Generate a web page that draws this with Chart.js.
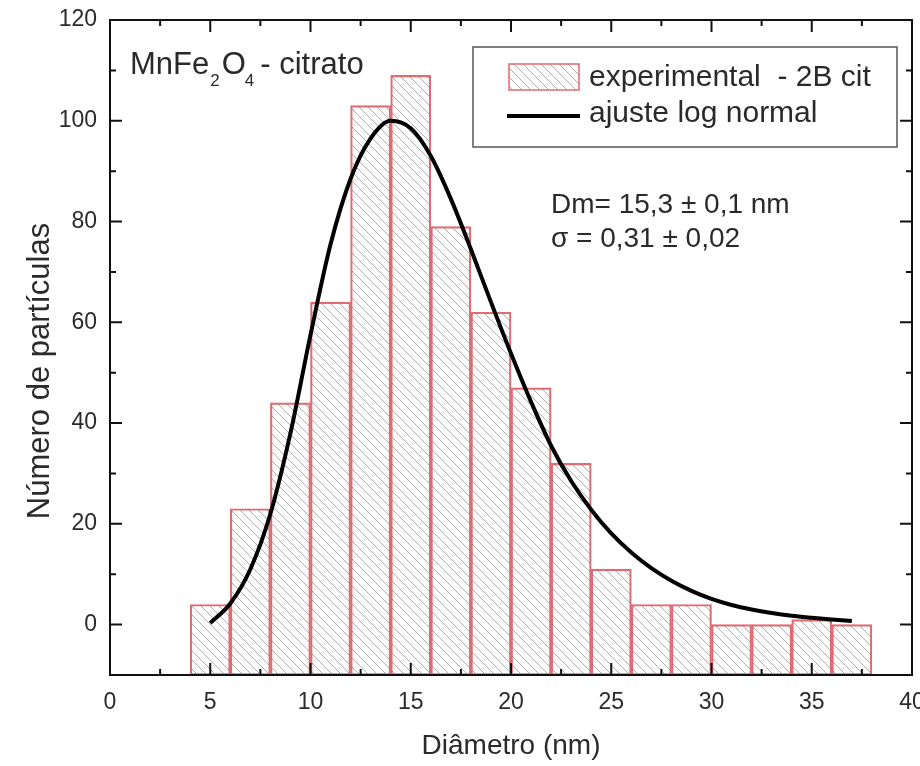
<!DOCTYPE html>
<html>
<head>
<meta charset="utf-8">
<script src="https://cdn.jsdelivr.net/npm/chart.js@4/dist/chart.umd.min.js"></script>
<style>
  html, body { margin: 0; padding: 0; background: #fff; }
</style>
</head>
<body>
<canvas id="hist" width="920" height="766"></canvas>
<script>
// histogram bins (centre of each 2 nm bin) and counts
const binCenters = [5, 7, 9, 11, 13, 15, 17, 19, 21, 23, 25, 27, 29, 31, 33, 35, 37];
const counts     = [4, 23, 44, 64, 103, 109, 79, 62, 47, 32, 11, 4, 4, 0, 0, 1, 0];

// log-normal fit
const fitX = [5, 6, 7, 8, 9, 10, 11, 12, 13, 14, 15, 16, 17, 18, 19, 20, 21,
              22, 23, 24, 25, 26, 27, 28, 29, 30, 31, 32, 33, 34, 35, 36, 37];
const fitY = [0.3, 4.2, 11, 22, 38, 57.5, 75.5, 88.5, 96.5, 100, 98.5, 93, 84.5, 74.5, 64, 53.8, 44.2,
              35.5, 28.5, 22.8, 18.1, 14.3, 11.2, 8.7, 6.7, 5.1, 3.9, 3, 2.3, 1.75, 1.35, 1, 0.7];

const xTicks = [0, 5, 10, 15, 20, 25, 30, 35, 40];
const yTicks = [0, 20, 40, 60, 80, 100, 120];
const xRange = [0, 40];
const yRange = [-10, 120];

const histLabel = 'experimental  - 2B cit';
const fitLabel  = 'ajuste log normal';
const xTitle = 'Diâmetro (nm)';
const yTitle = 'Número de partículas';
const fitParams = ['Dm= 15,3 \u00b1 0,1 nm', '\u03c3 = 0,31 \u00b1 0,02'];

const FONT = "'Liberation Sans', Arial, sans-serif";
const TXT = '#2a2a2a';

const canvas = document.getElementById('hist');
const ctx0 = canvas.getContext('2d');

function makeHatch(ctx) {
  const c = document.createElement('canvas');
  c.width = 9; c.height = 9;
  const g = c.getContext('2d');
  g.strokeStyle = 'rgba(120,120,120,0.6)';
  g.lineWidth = 1;
  g.beginPath();
  g.moveTo(-1, -1); g.lineTo(10, 10);
  g.moveTo(-1, 8);  g.lineTo(1, 10);
  g.moveTo(8, -1);  g.lineTo(10, 1);
  g.stroke();
  return ctx.createPattern(c, 'repeat');
}
const hatch = makeHatch(ctx0);
const barRed = '#e36a72';

/* ====== frame, inward ticks, legend and labels ====== */
const decor = {
  id: 'decor',
  afterDraw(chart) {
    const { ctx, chartArea: a, scales: { x, y } } = chart;
    ctx.save();

    // frame
    ctx.strokeStyle = '#111';
    ctx.lineWidth = 2;
    ctx.strokeRect(a.left, a.top, a.right - a.left, a.bottom - a.top);

    // ticks pointing inwards on all four sides
    ctx.beginPath();
    const xMinor = xTicks.slice(1).map((v, i) => (v + xTicks[i]) / 2);
    const yMinor = yTicks.slice(1).map((v, i) => (v + yTicks[i]) / 2);
    const xt = (v, len) => {
      const px = x.getPixelForValue(v);
      ctx.moveTo(px, a.bottom); ctx.lineTo(px, a.bottom - len);
      ctx.moveTo(px, a.top);    ctx.lineTo(px, a.top + len);
    };
    const yt = (v, len) => {
      const py = y.getPixelForValue(v);
      ctx.moveTo(a.left, py);  ctx.lineTo(a.left + len, py);
      ctx.moveTo(a.right, py); ctx.lineTo(a.right - len, py);
    };
    xTicks.forEach(v => xt(v, 12));
    xMinor.forEach(v => xt(v, 6));
    yTicks.forEach(v => yt(v, 12));
    yMinor.forEach(v => yt(v, 6));
    ctx.stroke();

    // legend
    const bx = a.right - 439, by = a.top + 27;
    ctx.lineWidth = 1.5;
    ctx.strokeStyle = '#555';
    ctx.strokeRect(bx, by, 424, 100);
    ctx.fillStyle = hatch;
    ctx.fillRect(bx + 36, by + 17, 70, 26);
    ctx.strokeStyle = barRed;
    ctx.lineWidth = 1.5;
    ctx.strokeRect(bx + 36, by + 17, 70, 26);
    ctx.strokeStyle = '#000';
    ctx.lineWidth = 4;
    ctx.beginPath();
    ctx.moveTo(bx + 34, by + 69); ctx.lineTo(bx + 107, by + 69);
    ctx.stroke();
    ctx.fillStyle = TXT;
    ctx.font = '30px ' + FONT;
    ctx.textBaseline = 'middle';
    ctx.textAlign = 'left';
    const ds = chart.data.datasets;
    ctx.fillText(ds[0].label, bx + 116, by + 31);
    ctx.fillText(ds[1].label, bx + 116, by + 67);

    // sample name with subscripts
    ctx.textBaseline = 'alphabetic';
    let tx = a.left + 20;
    const base = a.top + 54;
    [['MnFe', 0, 1], ['2', 1, 2], ['O', 0, -1], ['4', 1, 6], ['- citrato', 0, 0]].forEach(([s, sub, gap]) => {
      ctx.font = (sub ? '17px ' : '31px ') + FONT;
      ctx.fillText(s, tx, sub ? base + 12 : base);
      tx += ctx.measureText(s).width + gap;
    });

    // fit parameters
    ctx.font = '28px ' + FONT;
    ctx.textBaseline = 'middle';
    ctx.fillText(fitParams[0], 551, 205);
    ctx.fillText(fitParams[1], 551, 239);

    // axis titles
    ctx.textAlign = 'center';
    ctx.font = '28px ' + FONT;
    ctx.fillText(xTitle, (a.left + a.right) / 2, 746);
    ctx.translate(40, 371);
    ctx.rotate(-Math.PI / 2);
    ctx.font = '31px ' + FONT;
    ctx.fillText(yTitle, 0, 0);
    ctx.restore();
  }
};

new Chart(canvas, {
  type: 'bar',
  data: {
    datasets: [{
      type: 'bar',
      label: histLabel,
      data: binCenters.map((c, i) => ({ x: c, y: [yRange[0], counts[i]] })),
      backgroundColor: hatch,
      borderColor: barRed,
      borderWidth: 1.5,
      borderSkipped: false,
      barPercentage: 1,
      categoryPercentage: 1,
      order: 2
    }, {
      type: 'line',
      label: fitLabel,
      data: fitX.map((v, i) => ({ x: v, y: fitY[i] })),
      borderColor: '#000',
      borderWidth: 4,
      pointRadius: 0,
      fill: false,
      cubicInterpolationMode: 'monotone',
      order: 1
    }]
  },
  options: {
    responsive: false,
    animation: false,
    devicePixelRatio: 1,
    layout: { padding: { left: 0, top: 20, right: 8, bottom: 0 } },
    plugins: { legend: { display: false }, tooltip: { enabled: false } },
    scales: {
      x: {
        type: 'linear',
        min: xRange[0], max: xRange[1],
        offset: false,
        grid: { display: false, drawTicks: false, offset: false },
        border: { display: false },
        ticks: { padding: 14, color: TXT, font: { family: FONT, size: 23 }, maxRotation: 0, autoSkip: false },
        afterBuildTicks: s => { s.ticks = xTicks.map(v => ({ value: v })); },
        afterFit: s => { s.height = 91; s.paddingLeft = 0; s.paddingRight = 0; }
      },
      y: {
        type: 'linear',
        min: yRange[0], max: yRange[1],
        grid: { display: false, drawTicks: false },
        border: { display: false },
        ticks: { padding: 13, color: TXT, font: { family: FONT, size: 23 } },
        afterBuildTicks: s => { s.ticks = yTicks.map(v => ({ value: v })); },
        afterFit: s => { s.width = 110; s.paddingTop = 0; s.paddingBottom = 0; }
      }
    }
  },
  plugins: [decor]
});
</script>
</body>
</html>
